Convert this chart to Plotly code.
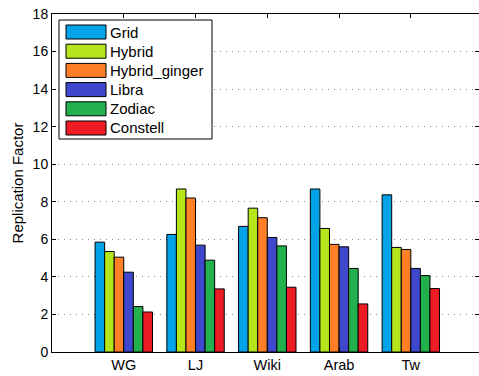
import plotly.graph_objects as go

datasets = ["WG", "LJ", "Wiki", "Arab", "Tw"]
methods = ["Grid", "Hybrid", "Hybrid_ginger", "Libra", "Zodiac", "Constell"]
colors = ["#00A2E8", "#B5E61D", "#FF7F27", "#3F48CC", "#22B14C", "#ED1C24"]

grid = [5.85, 6.26, 6.69, 8.68, 8.37]
hybrid = [5.35, 8.68, 7.66, 6.58, 5.57]
hybrid_ginger = [5.05, 8.20, 7.15, 5.73, 5.46]
libra = [4.25, 5.69, 6.10, 5.60, 4.45]
zodiac = [2.42, 4.89, 5.65, 4.45, 4.07]
constell = [2.13, 3.36, 3.45, 2.56, 3.38]
series = [grid, hybrid, hybrid_ginger, libra, zodiac, constell]

W, H = 479, 376
ML, MT, MB, MR = 52, 14, 24, 0
pw, ph = W - ML - MR, H - MT - MB

xpos = list(range(1, len(datasets) + 1))
family = "Liberation Sans, Arial, sans-serif"
tickfont = dict(family=family, size=14, color="black")

group_w = 0.8
bar_w = group_w / len(methods)

fig = go.Figure()
for i, (name, vals, col) in enumerate(zip(methods, series, colors)):
    fig.add_trace(go.Bar(
        x=xpos, y=vals, name=name, width=bar_w,
        offset=-group_w / 2 + i * bar_w,
        marker=dict(color=col, line=dict(color="black", width=1)),
        showlegend=False,
    ))


def px_x(p):
    return (p - ML) / pw


def px_y(p):
    return 1 - (p - MT) / ph


shapes = []
annotations = []
# legend frame
shapes.append(dict(type="rect", xref="paper", yref="paper",
                   x0=px_x(59), x1=px_x(212), y0=px_y(139), y1=px_y(20),
                   line=dict(color="black", width=1), fillcolor="white", layer="above"))
for i, (name, col) in enumerate(zip(methods, colors)):
    cy = 32 + i * 19.2
    shapes.append(dict(type="rect", xref="paper", yref="paper",
                       x0=px_x(66), x1=px_x(106), y0=px_y(cy + 7), y1=px_y(cy - 7),
                       line=dict(color="black", width=1), fillcolor=col, layer="above"))
    annotations.append(dict(xref="paper", yref="paper", x=px_x(108), y=px_y(cy),
                            text=name, showarrow=False, xanchor="left", yanchor="middle",
                            font=dict(family=family, size=15, color="black")))

fig.update_layout(
    width=W, height=H,
    margin=dict(l=ML, r=MR, t=MT, b=MB, pad=0),
    paper_bgcolor="white", plot_bgcolor="white",
    barmode="overlay",
    font=tickfont,
    shapes=shapes, annotations=annotations,
    xaxis=dict(range=[0, 5.95], tickvals=xpos, ticktext=datasets,
               showgrid=False, zeroline=False, showline=True, linecolor="black",
               linewidth=1, mirror="ticks", ticks="inside", ticklen=4,
               tickcolor="black", tickfont=dict(family=family, size=14.5, color="black")),
    yaxis=dict(range=[0, 18], tickvals=list(range(0, 19, 2)),
               showgrid=True, gridcolor="#8a8a8a", griddash="1px,5px", gridwidth=1,
               zeroline=False, showline=True, linecolor="black", linewidth=1,
               mirror="ticks", ticks="inside", ticklen=4, tickcolor="black",
               tickfont=tickfont,
               title=dict(text="Replication Factor", font=dict(family=family, size=15),
                          standoff=5)),
)

fig.write_html("out.html")
